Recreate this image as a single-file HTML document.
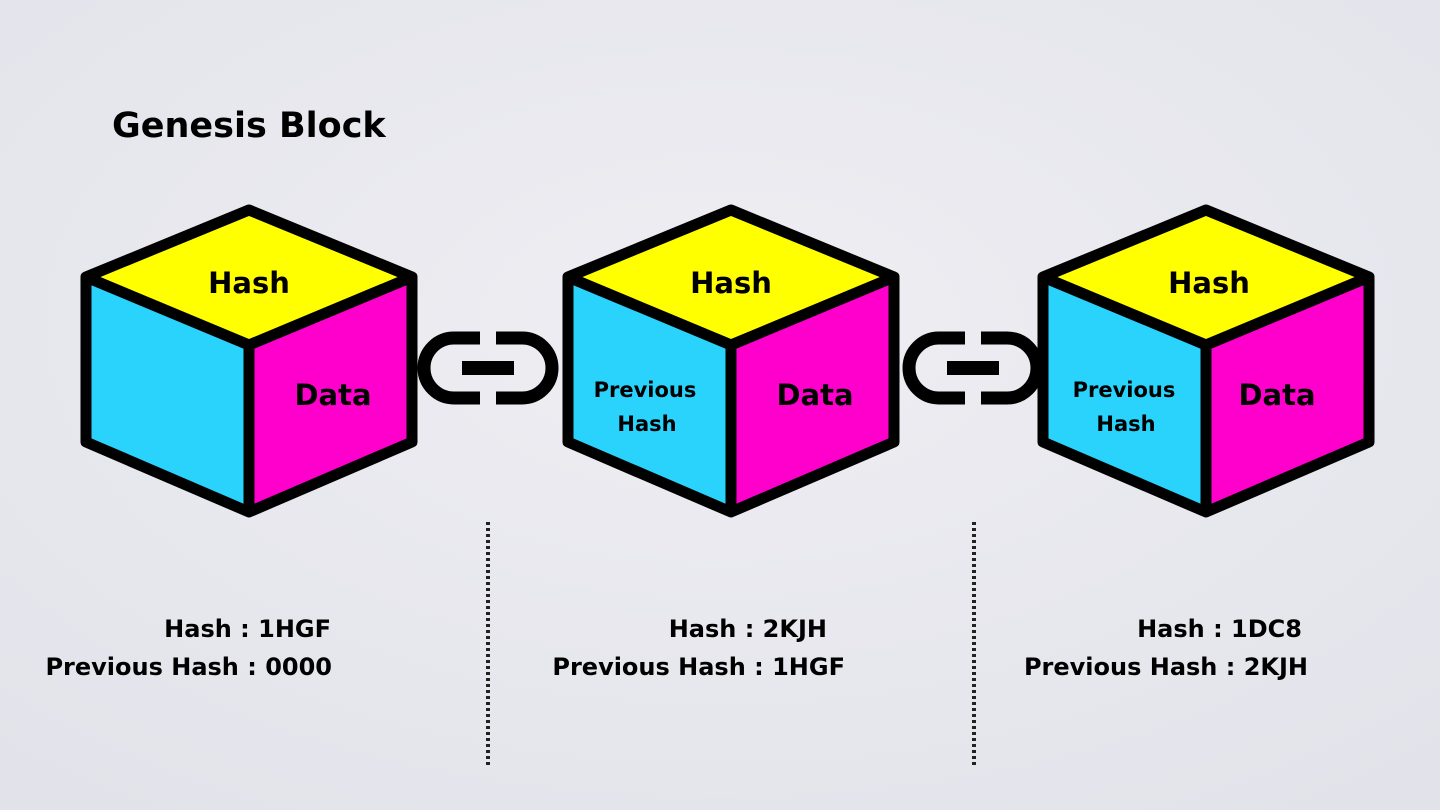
<!DOCTYPE html>
<html><head><meta charset="utf-8"><style>
html,body{margin:0;padding:0;}
body{width:1440px;height:810px;overflow:hidden;background:#e8e8ee;}
svg{display:block;}
text{font-family:"DejaVu Sans","Liberation Sans",sans-serif;font-weight:bold;fill:#000;}
</style></head><body>
<svg width="1440" height="810" viewBox="0 0 1440 810" xmlns="http://www.w3.org/2000/svg">
<defs>
<radialGradient id="bg" cx="50%" cy="40%" r="75%">
<stop offset="0" stop-color="#eeeef3"/><stop offset="1" stop-color="#e2e2ea"/>
</radialGradient>
<g id="cube">
<polygon points="0,-4 -168,64 -168,235 0,307 168,235 168,64" fill="#8a8a8e"/>
<polygon points="0,0 -163,67 0,135 163,67" fill="#ffff00"/>
<polygon points="-163,67 0,135 0,302 -163,232" fill="#29d3fc"/>
<polygon points="0,135 163,67 163,232 0,302" fill="#ff00cc"/>
<g fill="none" stroke="#000" stroke-width="11" stroke-linejoin="round">
<polygon points="0,0 -163,67 -163,232 0,302 163,232 163,67"/>
<polyline points="-163,67 0,135 163,67"/>
<line x1="0" y1="135" x2="0" y2="302"/>
</g>
</g>
<g id="link" fill="none" stroke="#000" stroke-width="13">
<path d="M62,6 H36 A30,30 0 0 0 36,66 H62"/>
<path d="M78,6 H104 A30,30 0 0 1 104,66 H78"/>
<line x1="44" y1="36" x2="96" y2="36" stroke-width="14"/>
</g>
</defs>
<rect width="1440" height="810" fill="url(#bg)"/>
<text x="112" y="137" font-size="35">Genesis Block</text>

<use href="#cube" x="249" y="210"/>
<use href="#cube" x="731" y="210"/>
<use href="#cube" x="1206" y="210"/>

<use href="#link" x="418" y="332"/>
<use href="#link" x="903" y="332"/>

<g font-size="29" text-anchor="middle">
<text x="249" y="293">Hash</text>
<text x="731" y="293">Hash</text>
<text x="1209" y="293">Hash</text>
<text x="333" y="405">Data</text>
<text x="815" y="405">Data</text>
<text x="1277" y="405">Data</text>
</g>
<g font-size="21" text-anchor="middle">
<text x="645" y="397">Previous</text><text x="647" y="431">Hash</text>
<text x="1124" y="397">Previous</text><text x="1126" y="431">Hash</text>
</g>

<g stroke="#222" stroke-width="4" stroke-dasharray="3 3">
<line x1="488" y1="522" x2="488" y2="768"/>
<line x1="974" y1="522" x2="974" y2="768"/>
</g>

<g font-size="24" text-anchor="end">
<text x="331" y="637">Hash : 1HGF</text>
<text x="332" y="675">Previous Hash : 0000</text>
<text x="827" y="637">Hash :  2KJH</text>
<text x="845" y="675">Previous Hash : 1HGF</text>
<text x="1302" y="637">Hash : 1DC8</text>
<text x="1308" y="675">Previous Hash : 2KJH</text>
</g>
</svg>
</body></html>
